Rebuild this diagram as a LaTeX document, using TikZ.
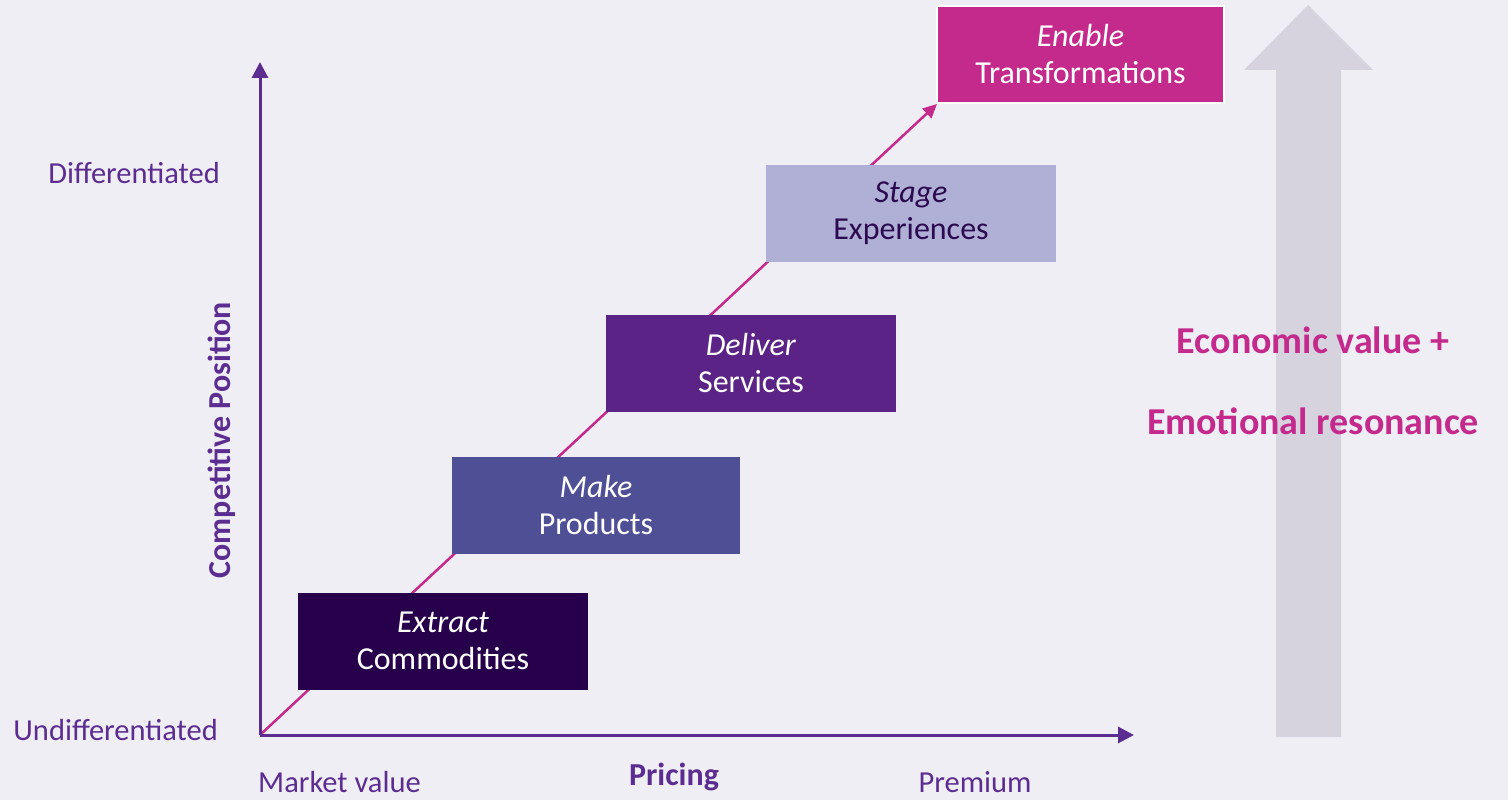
\documentclass[tikz,border=0pt]{standalone}
\usepackage{fontspec}
\setmainfont{Carlito}
\usetikzlibrary{arrows.meta}

\definecolor{pageBg}{HTML}{EFEEF4}
\definecolor{axisPurple}{HTML}{5C2D91}
\definecolor{lineMagenta}{HTML}{C42A8C}
\definecolor{boxExtract}{HTML}{26004A}
\definecolor{boxMake}{HTML}{4F4F96}
\definecolor{boxDeliver}{HTML}{5B2385}
\definecolor{boxStage}{HTML}{B0B0D6}
\definecolor{stageText}{HTML}{2B0A4F}
\definecolor{bigArrow}{HTML}{D6D3DF}

\tikzset{
  stagebox/.style={minimum width=290pt, minimum height=97pt, inner sep=0pt,
    align=center, text=white, font=\fontsize{32}{37}\selectfont},
  axislabel/.style={text=axisPurple, font=\fontsize{30.5}{34}\selectfont, inner sep=0pt},
  axistitle/.style={text=axisPurple, font=\fontsize{32}{36}\selectfont\bfseries, inner sep=0pt},
  axisline/.style={draw=axisPurple, line width=3pt, -{Triangle[length=16pt,width=16pt]}},
}

\begin{document}
\begin{tikzpicture}[x=1pt, y=-1pt]
  %%%%% START %%%%%

  \useasboundingbox (0,0) rectangle (1508,800);
  \fill[pageBg] (0,0) rectangle (1508,800);

  % big grey arrow on the right
  \fill[bigArrow] (1276,737) -- (1276,70) -- (1244,70) -- (1308,5)
    -- (1373,70) -- (1341,70) -- (1341,737) -- cycle;

  \node[text=lineMagenta, font=\fontsize{38}{44}\selectfont\bfseries] (econ) at (1313,340) {Economic value +};
  \node[text=lineMagenta, font=\fontsize{38}{44}\selectfont\bfseries] (emo) at (1313,421) {Emotional resonance};

  % axes
  \coordinate (origin) at (260,735);
  \coordinate (ytop) at (260,62);
  \coordinate (xend) at (1134,735);
  \coordinate (diagend) at (937,104);

  \draw[line width=2.5pt, draw=lineMagenta, -{Triangle[length=14pt,width=13pt]}] (origin) -- (diagend);
  \draw[axisline] (origin) -- (ytop);
  \draw[axisline] (origin) -- (xend);

  % stages
  \node[stagebox, fill=boxExtract] (extract) at (443,641) {\textit{Extract}\\Commodities};
  \node[stagebox, fill=boxMake, minimum width=288pt] (make) at (596,505.5) {\textit{Make}\\Products};
  \node[stagebox, fill=boxDeliver] (deliver) at (751,363.5) {\textit{Deliver}\\Services};
  \node[stagebox, fill=boxStage, text=stageText] (stage) at (911,213.5) {\textit{Stage}\\Experiences};
  \node[stagebox, fill=lineMagenta, draw=white, line width=2pt, minimum width=287pt] (enable) at (1080.5,54.5) {\textit{Enable}\\Transformations};

  % axis labels
  \node[axislabel, anchor=east] (diff) at (220,173) {Differentiated};
  \node[axislabel, anchor=east] (undiff) at (218,730) {Undifferentiated};
  \node[axistitle, rotate=90] (position) at (222,440) {Competitive Position};
  \node[axislabel, anchor=base west] (market) at (258,792) {Market value};
  \node[axistitle] (pricing) at (674,777) {Pricing};
  \node[axislabel, anchor=base] (premium) at (975,792) {Premium};

  %%%%% END %%%%%
\end{tikzpicture}
\end{document}
